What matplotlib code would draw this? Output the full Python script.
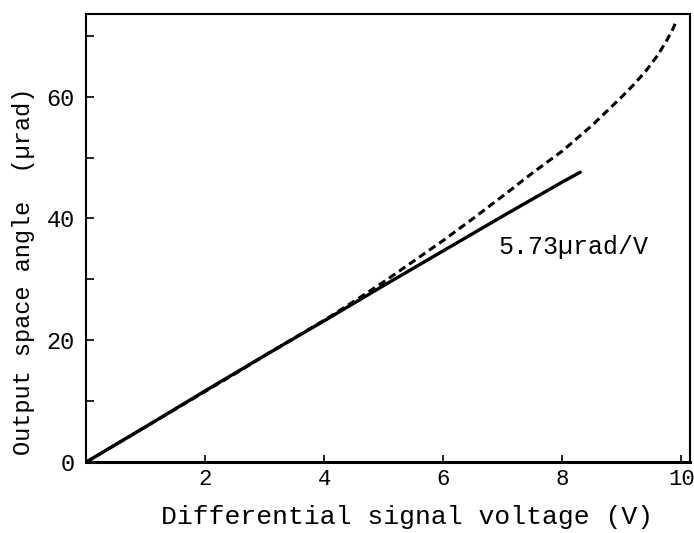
import matplotlib
matplotlib.use("Agg")
import matplotlib.pyplot as plt
from matplotlib.ticker import MultipleLocator

# measured response (dashed) and linear fit (solid)
volts_meas = [0, 0.5, 1, 1.5, 2, 2.5, 3, 3.5, 4, 4.5, 5, 5.5, 6, 6.5, 7,
              7.5, 8, 8.5, 9, 9.2, 9.4, 9.6, 9.75, 9.85, 9.92]
angle_meas = [0, 2.9, 5.8, 8.7, 11.6, 14.5, 17.5, 20.4, 23.3, 26.4, 29.6,
              33.0, 36.4, 40.0, 43.7, 47.5, 51.1, 55.3, 60.0, 62.0, 64.2,
              66.8, 69.2, 71.0, 72.6]

volts_fit = [0, 1, 2, 3, 4, 5, 6, 7, 8, 8.3]
angle_fit = [0, 5.8, 11.7, 17.5, 23.2, 29.0, 34.7, 40.4, 46.0, 47.6]

fit_label = "5.73µrad/V"
x_ticks = [2, 4, 6, 8, 10]
y_ticks = [0, 20, 40, 60]

plt.rcParams.update({
    "font.family": ["Liberation Mono", "DejaVu Sans Mono"],
    "font.size": 18,
})

fig = plt.figure(figsize=(6.94, 5.33), dpi=100)
ax = fig.add_axes([0.124, 0.133, 0.870, 0.841])

ax.plot(volts_fit, angle_fit, color="black", linewidth=2.4,
        solid_capstyle="round")
ax.plot(volts_meas, angle_meas, color="black", linewidth=2.2,
        linestyle=(0, (2.5, 1.5)))

ax.text(6.92, 34.2, fit_label, fontsize=18, ha="left", va="baseline")

ax.set_xlim(0, 10.14)
ax.set_ylim(0, 73.6)
ax.set_xticks(x_ticks)
ax.set_yticks(y_ticks)
ax.yaxis.set_minor_locator(MultipleLocator(10))

ax.tick_params(axis="x", which="major", direction="in", length=5,
               width=1.2, pad=5, labelsize=16)
ax.tick_params(axis="y", which="both", direction="in", length=6,
               width=1.2, pad=8, labelsize=17)

for side in ["left", "right", "top"]:
    ax.spines[side].set_linewidth(1.5)
ax.spines["bottom"].set_linewidth(2.2)

ax.set_xlabel("Differential signal voltage (V)", fontsize=19)
ax.set_ylabel("Output space angle  (µrad)", fontsize=17)
ax.xaxis.set_label_coords(0.531, -0.096)
ax.yaxis.set_label_coords(-0.084, 0.426)

fig.savefig("out.png", dpi=100)
